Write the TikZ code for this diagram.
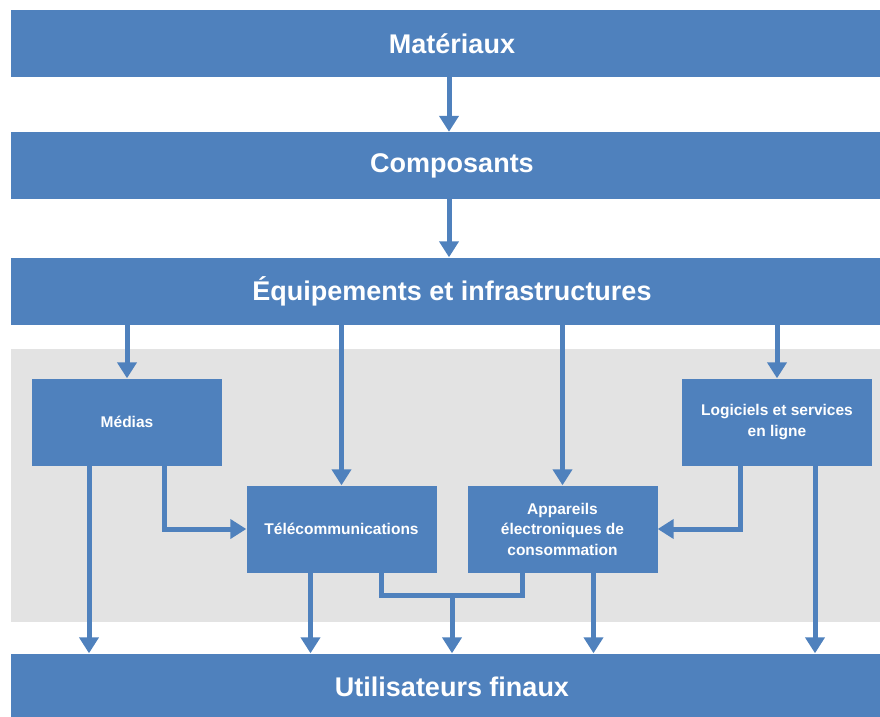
\documentclass[tikz,border=0pt]{standalone}
\usepackage{fontspec}
\setmainfont{Liberation Sans}
\usetikzlibrary{arrows.meta}
\definecolor{barblue}{HTML}{4F81BD}
\definecolor{zonegrey}{HTML}{E3E3E3}

\begin{document}
\begin{tikzpicture}[x=1pt, y=-1pt,
  bar/.style={fill=barblue, text=white, font=\bfseries\fontsize{27}{30}\selectfont,
    minimum width=882pt, minimum height=67pt, inner sep=0pt},
  box/.style={fill=barblue, text=white, font=\bfseries\fontsize{15.5}{20.5}\selectfont,
    minimum width=190pt, minimum height=87pt, align=center, inner sep=0pt},
  arr/.style={draw=barblue, line width=5pt, -{Triangle[width=19pt,length=16pt]}},
  link/.style={draw=barblue, line width=5pt}]

\useasboundingbox (0,0) rectangle (880,716);

% zone grise
\fill[zonegrey] (11,349) rectangle (893,622);

% bandes
\node[bar] (materiaux) at (452,43.5) {Matériaux};
\node[bar] (composants) at (452,165.5) {Composants};
\node[bar] (equipements) at (452,291) {Équipements et infrastructures};
\node[bar] (utilisateurs) at (452,687) {Utilisateurs finaux};

% boites
\node[box] (medias) at (127,422) {Médias};
\node[box] (logiciels) at (777,422) {Logiciels et services\\en ligne};
\node[box] (telecom) at (341.5,529) {Télécommunications};
\node[box] (appareils) at (562.5,529) {Appareils\\électroniques de\\consommation};

% fleches
\draw[arr] ([xshift=-3pt]materiaux.south) -- ([xshift=-3pt]composants.north);
\draw[arr] ([xshift=-3pt]composants.south) -- ([xshift=-3pt]equipements.north);

\draw[arr] (equipements.south -| medias.north) -- (medias.north);
\draw[arr] (equipements.south -| telecom.north) -- (telecom.north);
\draw[arr] (equipements.south -| appareils.north) -- (appareils.north);
\draw[arr] (equipements.south -| logiciels.north) -- (logiciels.north);

\draw[arr] ([xshift=37pt]medias.south) |- (telecom.west);
\draw[arr] ([xshift=-37pt]logiciels.south) |- (appareils.east);

\draw[arr] ([xshift=-38pt]medias.south) -- ([xshift=-38pt]medias.south |- utilisateurs.north);
\draw[arr] ([xshift=38pt]logiciels.south) -- ([xshift=38pt]logiciels.south |- utilisateurs.north);
\draw[arr] ([xshift=-31pt]telecom.south) -- ([xshift=-31pt]telecom.south |- utilisateurs.north);
\draw[arr] ([xshift=31pt]appareils.south) -- ([xshift=31pt]appareils.south |- utilisateurs.north);

% jonction telecom / appareils
\coordinate (jonction) at (452,595);
\draw[link] ([xshift=40pt]telecom.south) |- (jonction) -| ([xshift=-40pt]appareils.south);
\draw[arr] (jonction) -- (jonction |- utilisateurs.north);

\end{tikzpicture}
\end{document}
